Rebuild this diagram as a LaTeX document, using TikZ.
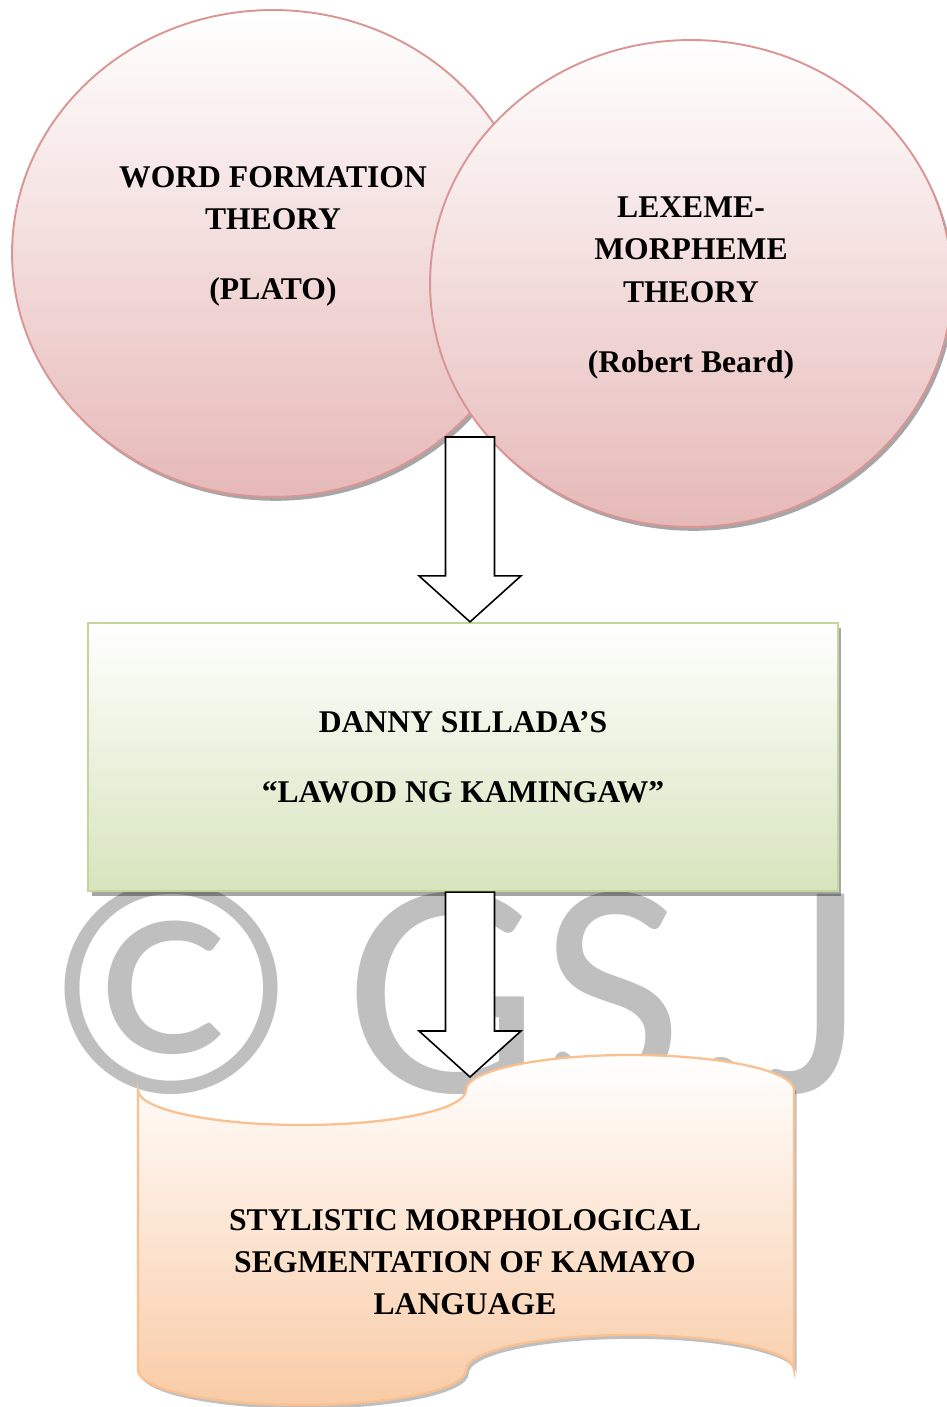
\documentclass[tikz,border=0pt]{standalone}
\usepackage{fontspec}
\setmainfont{Liberation Serif}
\newfontfamily\wmfont{Carlito}
\usetikzlibrary{calc,shapes.geometric,shadows}
\definecolor{rosedraw}{HTML}{D99694}
\definecolor{rosefill}{HTML}{E6B9B8}
\definecolor{greendraw}{HTML}{C3D69B}
\definecolor{greenfill}{HTML}{D7E4BD}
\definecolor{orangedraw}{HTML}{FAC090}
\definecolor{orangefill}{HTML}{F9CBA6}
\tikzset{lbl/.style={align=center, inner sep=0pt, font=\fontsize{18}{24}\selectfont\bfseries}}
\tikzset{theory/.style={ellipse, draw=rosedraw, line width=1.1pt, inner sep=0pt, minimum width=10.44cm, minimum height=9.74cm, top color=white, bottom color=rosefill, drop shadow={shadow xshift=1.5pt, shadow yshift=-2.2pt, fill=black, opacity=.35}}}
\tikzset{story/.style={rectangle, draw=greendraw, line width=1.3pt, minimum width=15cm, minimum height=5.36cm, top color=white, bottom color=greenfill, align=center, inner sep=0pt, font=\fontsize{18}{24}\selectfont\bfseries, drop shadow={shadow xshift=2pt, shadow yshift=-3pt, fill=black, opacity=.35}}}
\tikzset{tape/.style={draw=orangedraw, line width=1.3pt, top color=white, bottom color=orangefill, drop shadow={shadow xshift=1.5pt, shadow yshift=-2.2pt, fill=black, opacity=.25}}}
\tikzset{blockarr/.style={draw=black, fill=white, line width=0.9pt, line join=miter,
  to path={($(\tikztostart)+(-24.5,0)$) -- ($(\tikztotarget)+(-24.5,46)$) -- ($(\tikztotarget)+(-51,46)$) -- (\tikztotarget) -- ($(\tikztotarget)+(51,46)$) -- ($(\tikztotarget)+(24.5,46)$) -- ($(\tikztostart)+(24.5,0)$) -- cycle}}}
\tikzset{wmark/.style={inner sep=0pt, text=black!25, font=\wmfont\fontsize{176}{180}\selectfont}}

\begin{document}
\begin{tikzpicture}[x=0.02cm, y=0.02cm]
	\useasboundingbox (0,0) rectangle (947,1407);
	
	% watermark behind everything
	\node[wmark, anchor=base west] (gsj) at (42,314) {©\hspace{-14pt} GS.J};
	
	% the two theories
	\node[theory] (plato) at (273,1153.5) {};
	\node[theory] (beard) at (691,1123.5) {};
	\node[lbl] (platotxt) at (273,1170.5) {WORD FORMATION\\THEORY\\[16pt](PLATO)};
	\node[lbl] (beardtxt) at (691,1119) {LEXEME-\\MORPHEME\\THEORY\\[16pt](Robert Beard)};
	
	% the text studied
	\node[story] (story) at (463,650) {DANNY SILLADA’S\\[16pt]“LAWOD NG KAMINGAW”};
	
	% outcome, punched tape shape
	\draw[tape] (138,317) arc[start angle=180, end angle=360, x radius=164, y radius=35]
		arc[start angle=180, end angle=0, x radius=164, y radius=35] -- (794,37)
		arc[start angle=0, end angle=180, x radius=164, y radius=35]
		arc[start angle=0, end angle=-180, x radius=164, y radius=35] -- cycle;
	\node[lbl] (seg) at (465,145) {STYLISTIC MORPHOLOGICAL\\SEGMENTATION OF KAMAYO\\LANGUAGE};
	
	\coordinate (split) at (470,970);
	\coordinate (tip1) at (split |- story.north);
	\coordinate (split2) at (story.south -| split);
	\coordinate (tapetip) at (470,330);
	
	\draw[blockarr] (split) to (tip1);
	\draw[blockarr] (split2) to (tapetip);
\end{tikzpicture}
\end{document}
